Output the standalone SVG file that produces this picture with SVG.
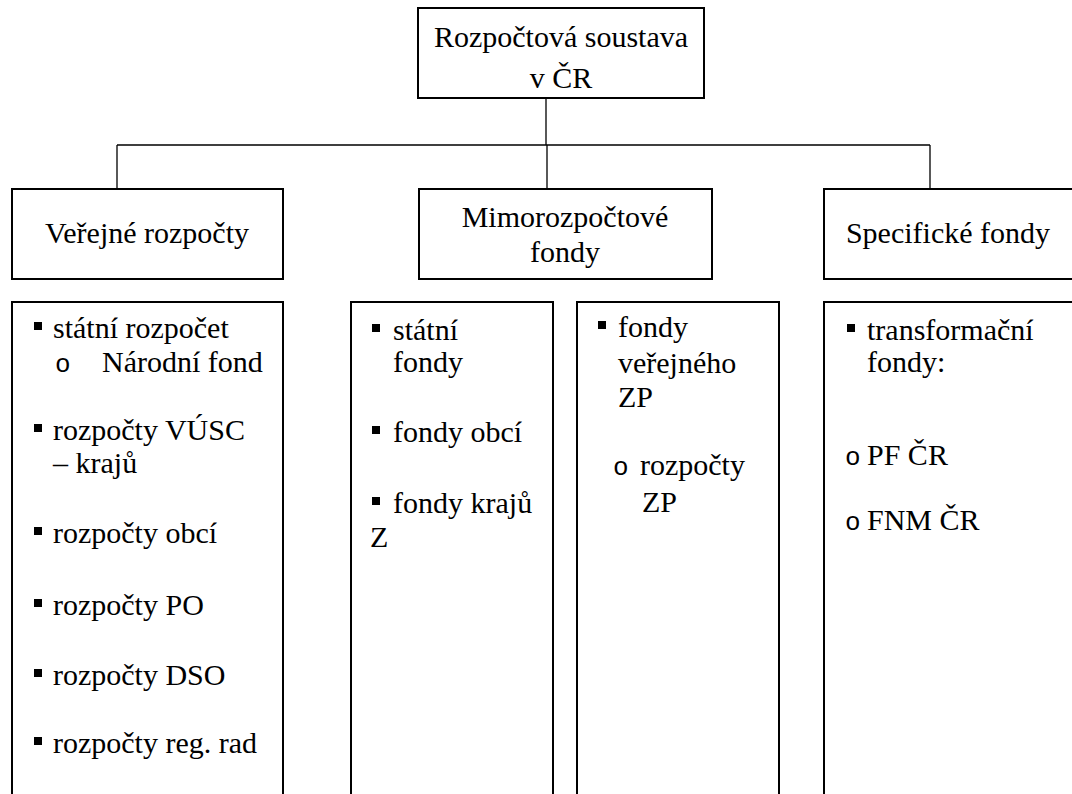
<svg xmlns="http://www.w3.org/2000/svg" width="1072" height="794" viewBox="0 0 1072 794">
<style>
.box{fill:#fff;stroke:#000;stroke-width:2}
.c{text-anchor:middle}
.con{fill:none;stroke:#000;stroke-width:1.3}
</style>
<rect width="1072" height="794" fill="#fff"/>
<g id="connectors">
<path class="con" d="M546 98V145M117 145H930M117 145V189M547 145V189M930 145V189"/>
</g>
<g font-family="Liberation Serif, Times New Roman, DejaVu Serif, serif" font-size="30" fill="#000">
<g id="root">
<rect class="box" x="418" y="8" width="286" height="90"/>
<text class="c" x="561" y="47">Rozpočtová soustava</text>
<text class="c" x="561" y="88">v ČR</text>
</g>
<g id="verejne">
<rect class="box" x="12" y="189" width="271" height="90"/>
<text class="c" x="147" y="243">Veřejné rozpočty</text>
</g>
<g id="mimo">
<rect class="box" x="419" y="189" width="293" height="90"/>
<text class="c" x="565" y="227">Mimorozpočtové</text>
<text class="c" x="565" y="262">fondy</text>
</g>
<g id="specificke">
<rect class="box" x="824" y="189" width="260" height="90"/>
<text class="c" x="948" y="243">Specifické fondy</text>
</g>
<g id="list-verejne">
<rect class="box" x="12" y="302" width="271" height="600"/>
<rect x="34" y="322" width="8" height="8"/>
<text x="53" y="338">státní rozpočet</text>
<text x="55" y="372" font-family="Liberation Mono, Courier New, monospace" font-size="26">o</text>
<text x="102" y="372">Národní fond</text>
<rect x="34" y="424" width="8" height="8"/>
<text x="53" y="440">rozpočty VÚSC</text>
<text x="53" y="473">– krajů</text>
<rect x="34" y="527" width="8" height="8"/>
<text x="53" y="543">rozpočty obcí</text>
<rect x="34" y="599" width="8" height="8"/>
<text x="53" y="615">rozpočty PO</text>
<rect x="34" y="669" width="8" height="8"/>
<text x="53" y="685">rozpočty DSO</text>
<rect x="34" y="737" width="8" height="8"/>
<text x="53" y="753">rozpočty reg. rad</text>
</g>
<g id="list-mimo-1">
<rect class="box" x="351" y="302" width="202" height="600"/>
<rect x="372" y="324" width="8" height="8"/>
<text x="393" y="340">státní</text>
<text x="393" y="372">fondy</text>
<rect x="372" y="426" width="8" height="8"/>
<text x="393" y="442">fondy obcí</text>
<rect x="372" y="497" width="8" height="8"/>
<text x="393" y="513">fondy krajů</text>
<text x="370" y="547">Z</text>
</g>
<g id="list-mimo-2">
<rect class="box" x="577" y="302" width="202" height="600"/>
<rect x="598" y="321" width="8" height="8"/>
<text x="618" y="337">fondy</text>
<text x="618" y="373">veřejného</text>
<text x="618" y="407">ZP</text>
<text x="613" y="475" font-family="Liberation Mono, Courier New, monospace" font-size="26">o</text>
<text x="640" y="475">rozpočty</text>
<text x="642" y="512">ZP</text>
</g>
<g id="list-specificke">
<rect class="box" x="824" y="302" width="260" height="600"/>
<rect x="847" y="324" width="8" height="8"/>
<text x="867" y="340">transformační</text>
<text x="867" y="372">fondy:</text>
<text x="845" y="465" font-family="Liberation Mono, Courier New, monospace" font-size="26">o</text>
<text x="867" y="465">PF ČR</text>
<text x="845" y="530" font-family="Liberation Mono, Courier New, monospace" font-size="26">o</text>
<text x="867" y="530">FNM ČR</text>
</g>
</g>
</svg>
